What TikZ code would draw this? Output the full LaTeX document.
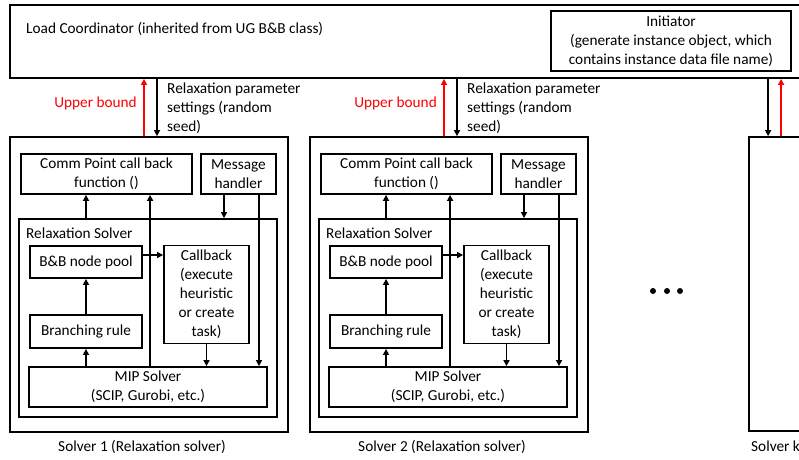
\documentclass[tikz,border=0pt]{standalone}
\usepackage{fontspec}
\setmainfont{Carlito}
\usepackage{tikz}
\usetikzlibrary{calc, positioning, arrows.meta}

\tikzset{
  box/.style={draw, line width=1.8pt, align=center, inner sep=0pt},
  lbl/.style={inner sep=0pt},
  arr/.style={-{Triangle[length=6pt,width=6pt]}, line width=1.6pt},
  ubarr/.style={arr, red},
}

\begin{document}
\begin{tikzpicture}[x=1pt, y=-1pt, font=\fontsize{15.3}{19}\selectfont]
  \useasboundingbox (0,0) rectangle (799,459);
  \clip (0,0) rectangle (799,459);

  % nodes %
  \node[box, minimum width=1040, minimum height=73] (coord) at (530,41.5) {};
  \node[lbl, anchor=west] (coordtext) at (26,29) {Load Coordinator (inherited from UG B\&B class)};
  \node[box, minimum width=240, minimum height=60] (init) at (671,41) {Initiator\\(generate instance object, which\\contains instance data file name)};

  \foreach \s/\dx in {1/0, 2/300} {
    \begin{scope}[xshift=\dx]
      % nodes %
      \node[box, minimum width=278, minimum height=295] (sol\s) at (149,284.5) {};
      \node[box, minimum width=171, minimum height=40] (comm\s) at (106.5,174) {Comm Point call back\\function ()};
      \node[box, minimum width=75, minimum height=40] (msg\s) at (238.5,174) {Message\\handler};
      \node[box, minimum width=258, minimum height=198] (relax\s) at (148,318) {};
      \node[lbl, anchor=west] (relaxtext\s) at (26,233) {Relaxation Solver};
      \node[box, minimum width=112, minimum height=32] (pool\s) at (86,262) {B\&B node pool};
      \node[box, minimum width=85, minimum height=98] (cb\s) at (206.5,294.5) {Callback\\(execute\\heuristic\\or create\\task)};
      \node[box, minimum width=112, minimum height=33] (branch\s) at (86,331.5) {Branching rule};
      \node[box, minimum width=238, minimum height=40] (mip\s) at (148,387) {MIP Solver\\(SCIP, Gurobi, etc.)};
      \node (name\s) at (142,447) {Solver \s\ (Relaxation solver)};
      \node[lbl, red, anchor=east] (ubtext\s) at (137,103) {Upper bound};
      \node[lbl, anchor=west, align=left] (partext\s) at (167,108) {Relaxation parameter\\settings (random\\seed)};

      % edges %
      \coordinate (ub\s) at ($(sol\s.north)+(-5,0)$);
      \coordinate (par\s) at ($(sol\s.north)+(8,0)$);
      \draw[ubarr] (ub\s) -- (ub\s |- coord.south);
      \draw[arr] (par\s |- coord.south) -- (par\s);
      \draw[arr] (relax\s.north -| branch\s) -- (comm\s.south -| branch\s);
      \draw[arr] (branch\s.north) -- (pool\s.south);
      \draw[arr] (mip\s.north -| branch\s) -- (branch\s.south);
      \coordinate (up\s) at ($(mip\s.north west)+(122,0)$);
      \draw[arr] (up\s) -- (up\s |- comm\s.south);
      \coordinate (pe\s) at ($(pool\s.east)+(0,-7)$);
      \draw[arr] (pe\s) -- (pe\s -| cb\s.west);
      \coordinate (ma\s) at ($(msg\s.south)+(-14.5,0)$);
      \draw[arr] (ma\s) -- (ma\s |- relax\s.north);
      \coordinate (mb\s) at ($(msg\s.south)+(20.5,0)$);
      \draw[arr] (mb\s) -- (mb\s |- mip\s.north);
      \draw[arr] (cb\s.south) -- (cb\s.south |- mip\s.north);
    \end{scope}
  }

  % solver k %
  \node[box, minimum width=180, minimum height=294] (solk) at (839,284) {};
  \node[lbl, anchor=west] (namek) at (751,447) {Solver k (Relaxation solver)};
  \coordinate (park) at ($(solk.north west)+(20,0)$);
  \coordinate (ubk) at ($(solk.north west)+(33,0)$);
  \draw[arr] (park |- coord.south) -- (park);
  \draw[ubarr] (ubk) -- (ubk |- coord.south);

  % dots %
  \foreach \x in {653,667,680}
    \fill (\x,291) circle (3pt);
\end{tikzpicture}
\end{document}
